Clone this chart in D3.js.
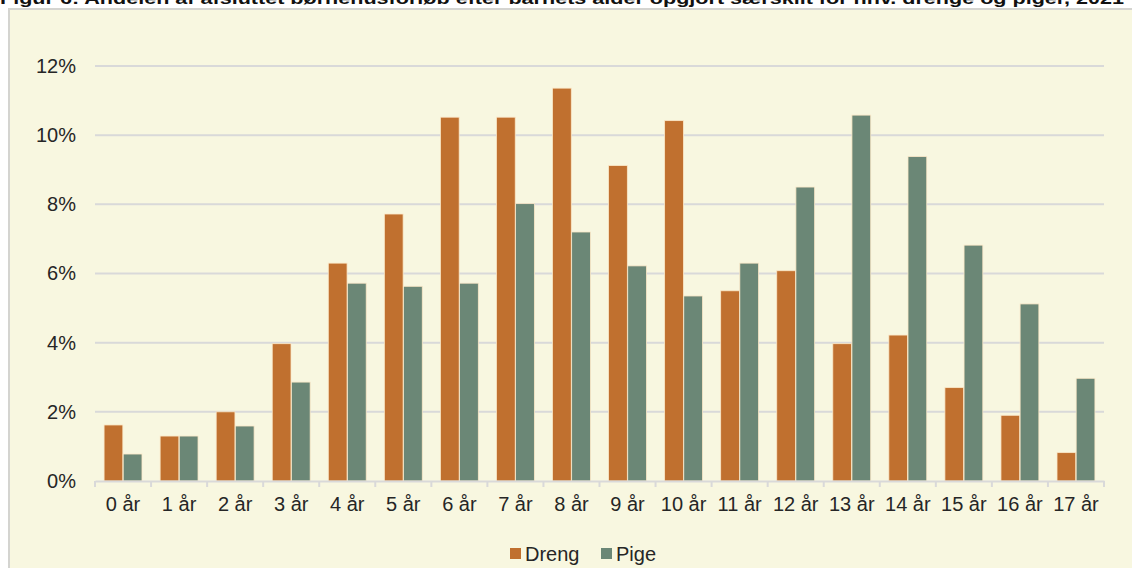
<!DOCTYPE html>
<html>
<head>
<meta charset="utf-8">
<script src="https://cdn.jsdelivr.net/npm/d3@7"></script>
<style>
  body { margin: 0; background: #fff; }
  svg { display: block; font-family: "Liberation Sans", Arial, sans-serif; }
</style>
</head>
<body>
<div id="chart"></div>
<script>
// Data
const ages = ['0 år','1 år','2 år','3 år','4 år','5 år','6 år','7 år','8 år','9 år',
  '10 år','11 år','12 år','13 år','14 år','15 år','16 år','17 år'];
const dreng = [1.62, 1.3, 2.0, 3.97, 6.3, 7.72, 10.52, 10.52, 11.36, 9.12,
  10.42, 5.5, 6.08, 3.97, 4.22, 2.7, 1.9, 0.82];
const pige = [0.78, 1.3, 1.59, 2.86, 5.72, 5.63, 5.72, 8.02, 7.2, 6.22,
  5.35, 6.3, 8.5, 10.58, 9.38, 6.82, 5.12, 2.97];
const seriesNames = ['Dreng', 'Pige'];
const yTicks = [0, 2, 4, 6, 8, 10, 12];
const title = 'Figur 6: Andelen af afsluttet børnehusforløb efter barnets alder opgjort særskilt for hhv. drenge og piger, 2021';

const width = 1132, height = 568;
const colors = { Dreng: '#C0702F', Pige: '#6B8776' };
const fontSize = 20;

const svg = d3.select('#chart').append('svg')
  .attr('width', width)
  .attr('height', height);

// Panel background
svg.append('rect')
  .attr('x', 9).attr('y', 9)
  .attr('width', width).attr('height', height)
  .attr('fill', '#F8F7E0')
  .attr('stroke', '#D4D4D0')
  .attr('stroke-width', 2);

// Title (cut off at the top edge, as in the source image)
svg.append('text')
  .attr('x', 0).attr('y', 4)
  .attr('textLength', 1124)
  .attr('lengthAdjust', 'spacingAndGlyphs')
  .attr('font-size', 17)
  .attr('font-weight', 'bold')
  .attr('fill', '#111')
  .text(title);

const margin = { left: 95, right: 28, top: 66, bottom: 87 };
const innerW = width - margin.left - margin.right;
const innerH = height - margin.top - margin.bottom;

const g = svg.append('g').attr('transform', `translate(${margin.left},${margin.top})`);

const x0 = d3.scaleBand().domain(ages).range([0, innerW]).paddingInner(0.31).paddingOuter(0.155);
const x1 = d3.scaleBand().domain(seriesNames).range([0, x0.bandwidth()]).padding(0.02);
const y = d3.scaleLinear().domain([0, 12]).range([innerH, 0]);

// Gridlines
g.append('g')
  .selectAll('line')
  .data(yTicks.filter(t => t > 0))
  .join('line')
  .attr('x1', 0).attr('x2', innerW)
  .attr('y1', d => y(d)).attr('y2', d => y(d))
  .attr('stroke', '#D9D9D9')
  .attr('stroke-width', 2);

// Y axis
const yAxis = g.append('g')
  .call(d3.axisLeft(y).tickValues(yTicks).tickFormat(d => d + '%').tickSize(0).tickPadding(19));
yAxis.select('.domain').remove();
yAxis.selectAll('text').attr('font-size', fontSize).attr('fill', '#262626');

// Bars
const groups = g.append('g')
  .selectAll('g')
  .data(ages.map((a, i) => ({ age: a, values: [
    { key: 'Dreng', value: dreng[i] },
    { key: 'Pige', value: pige[i] }
  ] })))
  .join('g')
  .attr('transform', d => `translate(${x0(d.age)},0)`);

groups.selectAll('rect')
  .data(d => d.values)
  .join('rect')
  .attr('x', d => x1(d.key))
  .attr('width', x1.bandwidth())
  .attr('y', d => y(d.value))
  .attr('height', d => innerH - y(d.value))
  .attr('fill', d => colors[d.key])
  .attr('stroke', '#FBE8C8')
  .attr('stroke-width', 0.8);

// X axis
const xAxis = g.append('g')
  .attr('transform', `translate(0,${innerH})`)
  .call(d3.axisBottom(x0).tickSize(0).tickPadding(16));
xAxis.select('.domain').attr('stroke', '#D9D9D9').attr('stroke-width', 2);
xAxis.selectAll('text').attr('font-size', fontSize).attr('fill', '#262626');

// Category separator ticks
g.append('g')
  .selectAll('line')
  .data(d3.range(ages.length + 1))
  .join('line')
  .attr('x1', i => i * x0.step()).attr('x2', i => i * x0.step())
  .attr('y1', innerH).attr('y2', innerH + 6)
  .attr('stroke', '#D9D9D9')
  .attr('stroke-width', 2);

// Legend
const legend = svg.append('g').attr('transform', 'translate(510,554)');
const items = legend.selectAll('g')
  .data(seriesNames)
  .join('g')
  .attr('transform', (d, i) => `translate(${i * 91},0)`);
items.append('rect')
  .attr('x', 0).attr('y', -6)
  .attr('width', 11).attr('height', 11)
  .attr('fill', d => colors[d]);
items.append('text')
  .attr('x', 15).attr('y', 7)
  .attr('font-size', fontSize)
  .attr('fill', '#262626')
  .text(d => d);
</script>
</body>
</html>
